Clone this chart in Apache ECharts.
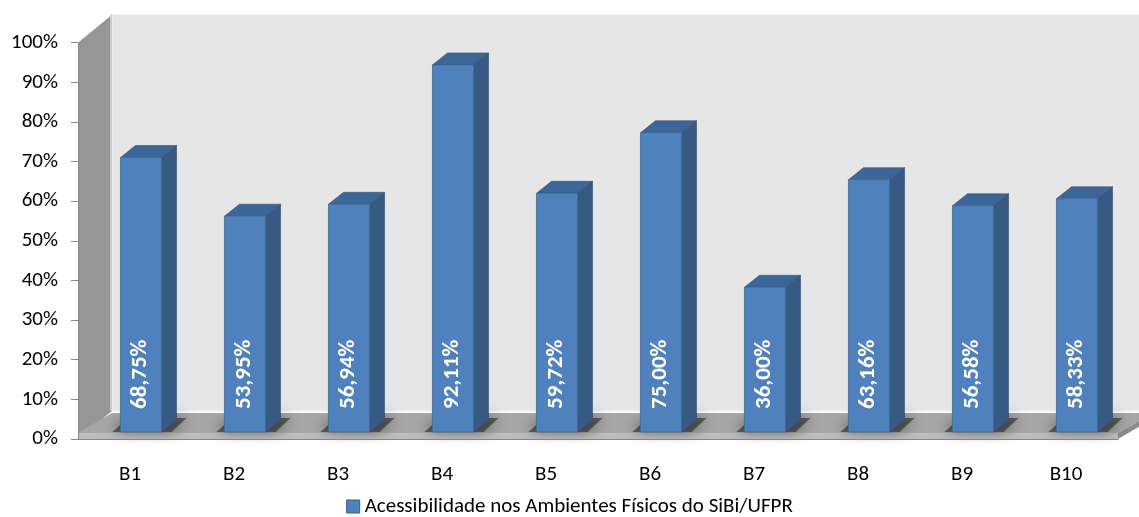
<!DOCTYPE html>
<html>
<head>
<meta charset="utf-8">
<script src="https://cdn.jsdelivr.net/npm/echarts@6/dist/echarts.min.js"></script>
<style>
  html, body { margin: 0; padding: 0; background: #ffffff; }
  #chart { width: 1139px; height: 517px; }
</style>
</head>
<body>
<div id="chart"></div>
<script>
// categories and values (percent)
const categories = ['B1', 'B2', 'B3', 'B4', 'B5', 'B6', 'B7', 'B8', 'B9', 'B10'];
const accessValues = [68.75, 53.95, 56.94, 92.11, 59.72, 75.00, 36.00, 63.16, 56.58, 58.33];
const seriesName = 'Acessibilidade nos Ambientes Físicos do SiBi/UFPR';

const FONT = 'Carlito, Lato, sans-serif';

// 3d look: wall depth and bar depth, in pixels
const WALL_DX = 34, WALL_DY = -28;
const FLOOR_DY = -20, FLOOR_T = 6;
const BAR_SHIFT_X = 11, BAR_SHIFT_Y = -7;
const BAR_DX = 15, BAR_DY = -12;

const chart = echarts.init(document.getElementById('chart'));

// back wall, side wall and floor, built from the grid rectangle
function renderBox(params, api) {
  const cs = params.coordSys;
  const x = cs.x, y = cs.y, w = cs.width, h = cs.height;
  const fy = y + h - FLOOR_T;
  return {
    type: 'group',
    children: [
      { type: 'polygon', shape: { points: [[x + WALL_DX, y + WALL_DY], [x + w + WALL_DX + 40, y + WALL_DY], [x + w + WALL_DX + 40, y + h + WALL_DY], [x + WALL_DX, y + h + WALL_DY]] },
        style: { fill: '#e6e6e6', stroke: '#f2f2f2', lineWidth: 1 } },
      { type: 'polygon', shape: { points: [[x, y], [x + WALL_DX, y + WALL_DY], [x + WALL_DX, y + h + WALL_DY], [x, y + h]] },
        style: { fill: '#969696' } },
      { type: 'line', shape: { x1: x + WALL_DX - 1, y1: y + WALL_DY + 1, x2: x + WALL_DX - 1, y2: y + h + WALL_DY },
        style: { stroke: '#cccccc', lineWidth: 2 } },
      // floor top
      { type: 'polygon', shape: { points: [[x, fy], [x + WALL_DX, fy + FLOOR_DY], [x + w + WALL_DX, fy + FLOOR_DY], [x + w, fy]] },
        style: { fill: '#a6a6a6' } },
      // floor front edge
      { type: 'polygon', shape: { points: [[x, fy], [x + w, fy], [x + w, y + h], [x, y + h]] },
        style: { fill: '#bdbdbd' } },
      // floor right edge
      { type: 'polygon', shape: { points: [[x + w, fy], [x + w + WALL_DX, fy + FLOOR_DY], [x + w + WALL_DX, y + h + FLOOR_DY], [x + w, y + h]] },
        style: { fill: '#8c8c8c' } }
    ]
  };
}

function renderBar(params, api) {
  const i = api.value(0);
  const v = api.value(1);
  const top = api.coord([i, v]);
  const base = api.coord([i, 0]);
  const bw = api.size([1, 0])[0] * 0.395;
  const cx = top[0] + BAR_SHIFT_X;
  const l = cx - bw / 2, r = cx + bw / 2;
  const ty = top[1] + BAR_SHIFT_Y - 2, by = base[1] + BAR_SHIFT_Y;
  const txt = v.toFixed(2).replace('.', ',') + '%';
  return {
    type: 'group',
    children: [
      // soft shadow on the floor
      { type: 'polygon', shape: { points: [[l - 8, by], [l + BAR_DX - 8, by + BAR_DY - 2], [r + BAR_DX + 10, by + BAR_DY - 2], [r + 10, by]] },
        style: { fill: 'rgba(40,40,40,0.6)', shadowBlur: 14, shadowColor: 'rgba(0,0,0,0.75)' } },
      { type: 'polygon', shape: { points: [[r, ty], [r + BAR_DX, ty + BAR_DY], [r + BAR_DX, by + BAR_DY], [r, by]] },
        style: { fill: '#375a84', stroke: '#30507a', lineWidth: 0.6 } },
      { type: 'polygon', shape: { points: [[l, ty], [l + BAR_DX, ty + BAR_DY], [r + BAR_DX, ty + BAR_DY], [r, ty]] },
        style: { fill: '#3c6698', stroke: '#30507a', lineWidth: 0.6 } },
      { type: 'rect', shape: { x: l, y: ty, width: bw, height: by - ty },
        style: { fill: '#4f81bd', stroke: '#40699c', lineWidth: 0.8 } },
      { type: 'text', x: cx - 1, y: by - 23, rotation: Math.PI / 2,
        style: { text: txt, fill: '#ffffff', font: 'bold 23px ' + FONT, align: 'left', verticalAlign: 'middle' } }
    ]
  };
}

const option = {
  backgroundColor: '#ffffff',
  animation: false,
  textStyle: { fontFamily: FONT },
  grid: { left: 78, right: 21, top: 42.7, bottom: 78 },
  legend: {
    data: [seriesName],
    bottom: 0,
    left: 'center',
    padding: [0, 5, 0, 5],
    icon: 'rect',
    itemWidth: 13,
    itemHeight: 13,
    itemGap: 6,
    itemStyle: { color: '#4f81bd', borderColor: '#385d8a', borderWidth: 1 },
    textStyle: { fontSize: 21, color: '#000000', fontFamily: FONT }
  },
  xAxis: {
    type: 'category',
    data: categories,
    z: 5,
    axisLine: { lineStyle: { color: '#868686', width: 1 } },
    axisTick: { length: 8, lineStyle: { color: '#868686' } },
    axisLabel: { fontSize: 21, color: '#000000', margin: 25, fontFamily: FONT },
    splitLine: { show: false }
  },
  yAxis: {
    type: 'value',
    min: 0,
    max: 100,
    interval: 10,
    z: 5,
    axisLine: { show: true, lineStyle: { color: '#868686' } },
    axisTick: { show: true, length: 7, lineStyle: { color: '#868686' } },
    axisLabel: { fontSize: 21, color: '#000000', margin: 20, formatter: '{value}%', fontFamily: FONT },
    splitLine: { show: false }
  },
  series: [
    {
      type: 'custom',
      name: 'box',
      z: 1,
      silent: true,
      renderItem: renderBox,
      data: [[0, 0]]
    },
    {
      type: 'custom',
      name: seriesName,
      z: 3,
      itemStyle: { color: '#4f81bd' },
      renderItem: renderBar,
      encode: { x: 0, y: 1 },
      data: accessValues.map((v, i) => [i, v])
    }
  ]
};

chart.setOption(option);
</script>
</body>
</html>
